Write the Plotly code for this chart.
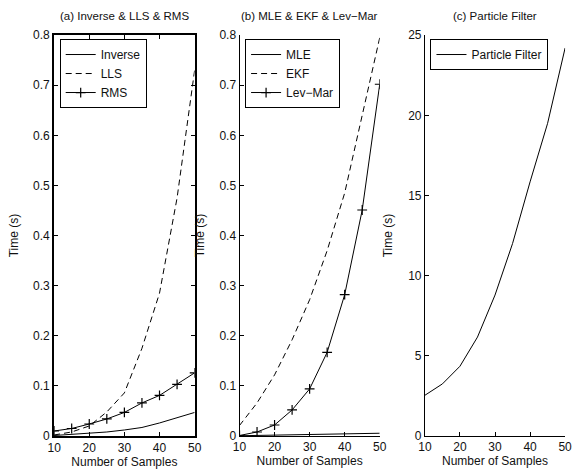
import plotly.graph_objects as go

samples = [10, 15, 20, 25, 30, 35, 40, 45, 50]

inverse = [0.001, 0.003, 0.005, 0.008, 0.012, 0.017, 0.026, 0.037, 0.047]
lls = [0.002, 0.008, 0.020, 0.048, 0.086, 0.175, 0.285, 0.475, 0.730]
rms = [0.010, 0.015, 0.024, 0.034, 0.047, 0.066, 0.081, 0.103, 0.126]

mle = [0.0005, 0.001, 0.0015, 0.002, 0.0025, 0.003, 0.0037, 0.0045, 0.0055]
ekf = [0.021, 0.066, 0.122, 0.192, 0.272, 0.370, 0.485, 0.640, 0.795]
levmar = [0.001, 0.008, 0.022, 0.052, 0.094, 0.167, 0.282, 0.451, 0.702]

particle = [2.54, 3.25, 4.35, 6.17, 8.79, 12.0, 15.85, 19.5, 24.2]

x_ticks = [10, 20, 30, 40, 50]
y_ticks_ab = [0, 0.1, 0.2, 0.3, 0.4, 0.5, 0.6, 0.7, 0.8]
y_ticks_c = [0, 5, 10, 15, 20, 25]

titles = ["(a) Inverse & LLS & RMS", "(b) MLE & EKF & Lev\u2212Mar", "(c) Particle Filter"]

W, H = 577, 476
FONT = "Liberation Sans, Arial, sans-serif"
BLACK = "#000000"

fig = go.Figure()

def line(x, y, name, xa, ya, legend, dash="solid", marker=False):
    fig.add_trace(go.Scatter(
        x=x, y=y, name=name, xaxis=xa, yaxis=ya, legend=legend,
        mode="lines+markers" if marker else "lines",
        line=dict(color=BLACK, width=1, dash=dash),
        marker=dict(symbol="cross-thin", size=7, line=dict(color=BLACK, width=1.2)) if marker else None,
    ))

DASH = "6px,4px"
line(samples, inverse, "Inverse", "x", "y", "legend")
line(samples, lls, "LLS", "x", "y", "legend", dash=DASH)
line(samples, rms, "RMS", "x", "y", "legend", marker=True)
line(samples, mle, "MLE", "x2", "y2", "legend2")
line(samples, ekf, "EKF", "x2", "y2", "legend2", dash=DASH)
line(samples, levmar, "Lev\u2212Mar", "x2", "y2", "legend2", marker=True)
line(samples, particle, "Particle Filter", "x3", "y3", "legend3")

def px(v):
    return v / W

def py(v):
    return 1 - v / H

x_domains = [(48.3, 192.3), (238.3, 382.0), (428.3, 572.0)]
y_dom = [py(442), py(29)]

layout = dict(
    width=W, height=H,
    margin=dict(l=0, r=0, t=0, b=0),
    paper_bgcolor="white", plot_bgcolor="white",
    font=dict(family=FONT, size=12, color="#111"),
    showlegend=True,
)

for i, (x0, x1) in enumerate(x_domains):
    sx = "" if i == 0 else str(i + 1)
    lw = 2 if i == 0 else 1
    mirror = "ticks" if i == 0 else False
    layout["xaxis" + sx] = dict(
        domain=[px(x0), px(x1)], anchor="y" + sx, range=[10, 50],
        tickvals=x_ticks, ticks="inside", ticklen=4, tickcolor=BLACK,
        showline=True, linecolor=BLACK, linewidth=lw, mirror=mirror,
        showgrid=False, zeroline=False,
        title=dict(text="Number of Samples", standoff=1, font=dict(size=12)),
        tickfont=dict(size=12),
    )
    yt = y_ticks_c if i == 2 else y_ticks_ab
    yr = [0, 25] if i == 2 else [0, 0.8]
    layout["yaxis" + sx] = dict(
        domain=y_dom, anchor="x" + sx, range=yr,
        tickvals=yt, ticks="inside", ticklen=4, tickcolor=BLACK,
        showline=True, linecolor=BLACK, linewidth=lw, mirror=mirror,
        showgrid=False, zeroline=False,
        title=dict(text="Time (s)", standoff=12, font=dict(size=12)),
        tickfont=dict(size=12),
    )

legend_pos = [(54, 33), (244, 33), (434, 33)]
for i, (lx, ly) in enumerate(legend_pos):
    key = "legend" if i == 0 else "legend" + str(i + 1)
    layout[key] = dict(
        x=px(lx), y=py(ly), xanchor="left", yanchor="top",
        bgcolor="white", bordercolor=BLACK, borderwidth=1,
        font=dict(size=12, family=FONT), tracegroupgap=0,
        itemwidth=30, itemsizing="trace",
    )

annotations = []
for i, (x0, x1) in enumerate(x_domains):
    annotations.append(dict(
        text=titles[i], x=px((x0 + x1) / 2), y=py(9), xref="paper", yref="paper",
        xanchor="center", yanchor="middle", showarrow=False, font=dict(size=11.5),
    ))
layout["annotations"] = annotations

fig.update_layout(**layout)
fig.write_html("out.html")
